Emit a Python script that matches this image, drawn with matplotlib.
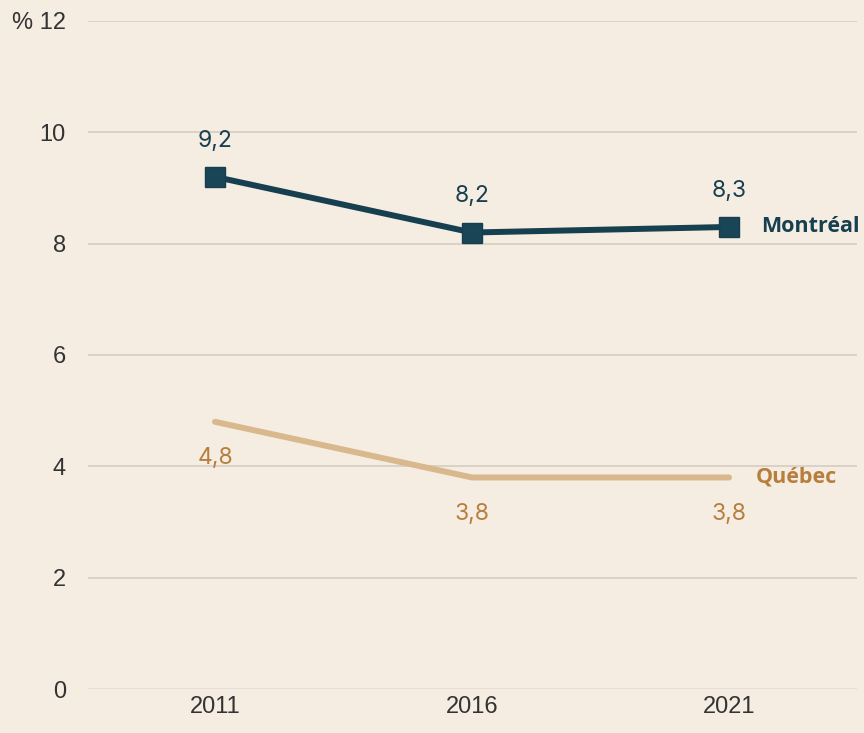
import matplotlib
matplotlib.use("Agg")
import matplotlib.pyplot as plt

years = ["2011", "2016", "2021"]
montreal = [9.2, 8.2, 8.3]
quebec = [4.8, 3.8, 3.8]
montreal_labels = ["9,2", "8,2", "8,3"]
quebec_labels = ["4,8", "3,8", "3,8"]
yticks = [0, 2, 4, 6, 8, 10, 12]
ytick_labels = ["0", "2", "4", "6", "8", "10", "% 12"]

BG = "#F5EDE2"
MTL = "#163F50"
QC_LINE = "#D9B88E"
QC_TEXT = "#B87E3E"
GRID = "#D3CAC0"
TXT = "#333333"

fig = plt.figure(figsize=(8.64, 7.33), dpi=100, facecolor=BG)
ax = fig.add_axes([0.1019, 0.060, 0.890, 0.9114], facecolor=BG)

x = list(range(len(years)))
ax.plot(x, quebec, color=QC_LINE, lw=4.3, solid_capstyle="round", zorder=3)
ax.plot(x, montreal, color=MTL, lw=4.3, marker="s", markersize=14,
        markerfacecolor="#1A4556", markeredgecolor=MTL, solid_capstyle="round", zorder=4)

for xi, v, s in zip(x, montreal, montreal_labels):
    ax.annotate(s, (xi, v), xytext=(0, 26), textcoords="offset points",
                ha="center", va="center", fontsize=16.5, color=MTL, family="Inter")
for xi, v, s in zip(x, quebec, quebec_labels):
    ax.annotate(s, (xi, v), xytext=(0, -26), textcoords="offset points",
                ha="center", va="center", fontsize=16.5, color=QC_TEXT, family="Inter")

ax.annotate("Montréal", (x[-1], montreal[-1]), xytext=(23, 0), textcoords="offset points",
            ha="left", va="center", fontsize=15.5, color=MTL, family="Open Sans", fontweight="bold")
ax.annotate("Québec", (x[-1], quebec[-1]), xytext=(19.5, 0), textcoords="offset points",
            ha="left", va="center", fontsize=15.5, color=QC_TEXT, family="Open Sans", fontweight="bold")

ax.set_xlim(-0.494, 2.498)
ax.set_ylim(0, 12)
ax.set_yticks(yticks)
ax.set_yticklabels(ytick_labels)
ax.set_xticks(x)
ax.set_xticklabels(years)
for lbl in ax.get_yticklabels() + ax.get_xticklabels():
    lbl.set_family("Liberation Sans")
    lbl.set_fontsize(17)
    lbl.set_color(TXT)

ax.tick_params(axis="both", length=0)
ax.tick_params(axis="y", pad=16)
ax.tick_params(axis="x", pad=5)
for sp in ax.spines.values():
    sp.set_visible(False)
for t in yticks:
    if t == 0:
        ax.axhline(t, color="#E2DCD5", lw=2, zorder=1)
    else:
        ax.axhline(t, color=GRID, lw=1.1, zorder=1)

fig.savefig("out.png", dpi=100, facecolor=BG)
